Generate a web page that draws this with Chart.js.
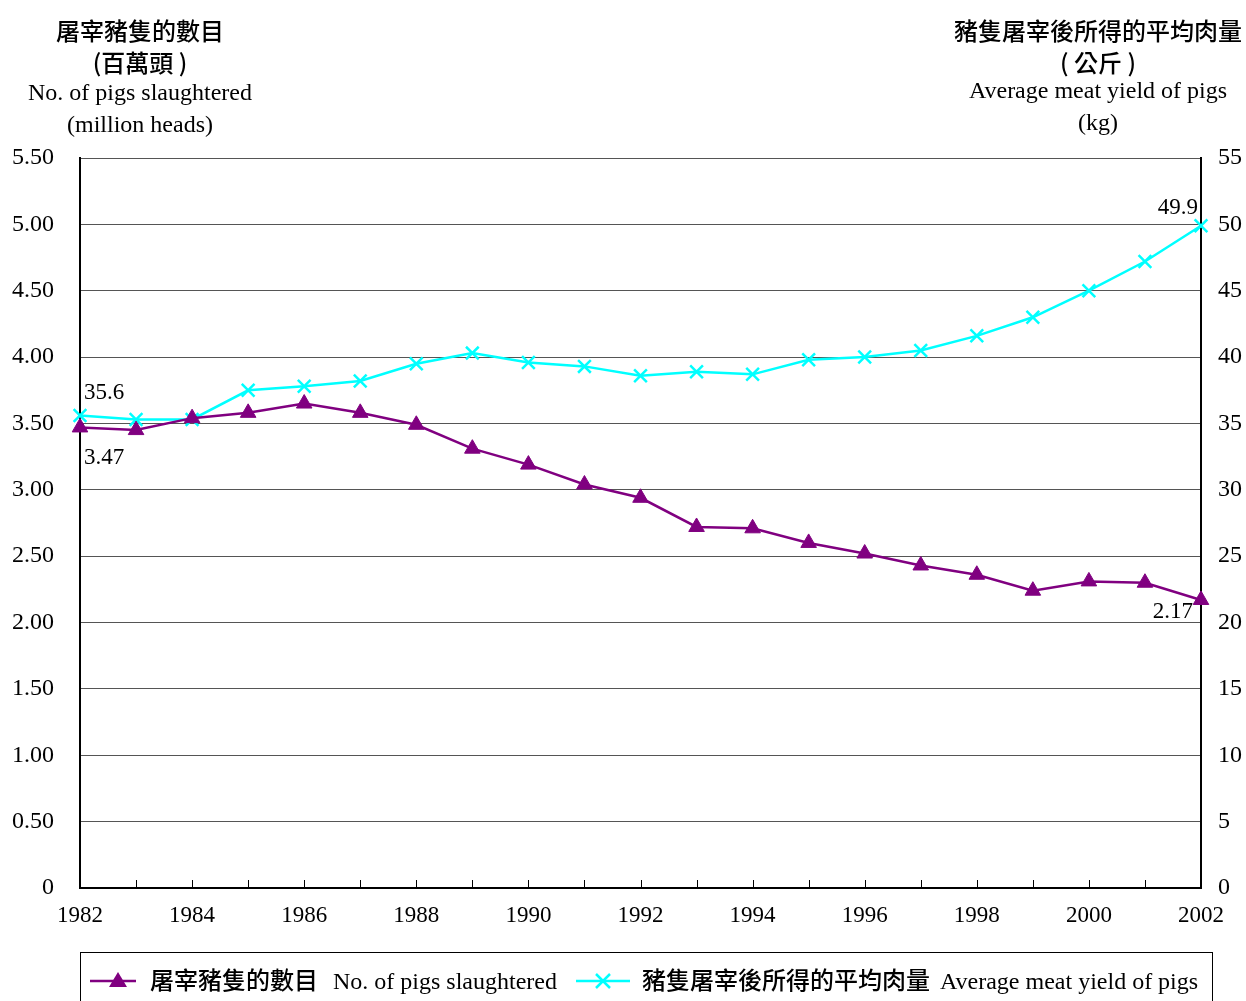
<!DOCTYPE html>
<html>
<head>
<meta charset="utf-8">
<script src="https://cdn.jsdelivr.net/npm/chart.js@4"></script>
<style>
  html, body { margin: 0; padding: 0; background: #fff; }
  #wrap { position: relative; width: 1246px; height: 1001px; overflow: hidden; }
  canvas { position: absolute; left: 0; top: 0; }
  .ttl { position: absolute; text-align: center; color: #000; font-size: 24px; line-height: 31.5px; }
  .zh { font-family: "Noto Sans CJK TC", "Noto Sans CJK SC", sans-serif; font-weight: 500; }
  .en { font-family: "Liberation Serif", "DejaVu Serif", serif; }
  #legend { position: absolute; left: 80px; top: 952px; width: 1133px; height: 60px; border: 1px solid #000; box-sizing: border-box;
            font-size: 24px; line-height: 30px; white-space: nowrap; }
  #legend span, #legend svg { position: absolute; top: 14px; }
</style>
</head>
<body>
<div id="wrap">
  <canvas id="c" width="1246" height="1001"></canvas>
  <div class="ttl" style="left:0; width:280px; top:14px;">
    <div class="zh">屠宰豬隻的數目</div>
    <div class="zh">(百萬頭 )</div>
    <div class="en">No. of pigs slaughtered</div>
    <div class="en">(million heads)</div>
  </div>
  <div class="ttl" style="left:950px; width:296px; top:14px;">
    <div class="zh">豬隻屠宰後所得的平均肉量</div>
    <div class="zh">( 公斤 )</div>
    <div class="en" style="margin-top:-2px">Average meat yield of pigs</div>
    <div class="en">(kg)</div>
  </div>
  <div id="legend">
    <svg style="left:9px; top:16px" width="48" height="24"><line x1="0" y1="12" x2="46" y2="12" stroke="#800080" stroke-width="2.5"/><polygon points="28,3 37,18 19,18" fill="#800080"/></svg>
    <span class="zh" style="left:69px; top:11px">屠宰豬隻的數目</span>
    <span class="en" style="left:252px; top:13px">No. of pigs slaughtered</span>
    <svg style="left:495px; top:16px" width="56" height="24"><line x1="0" y1="12" x2="54" y2="12" stroke="#00FFFF" stroke-width="2.5"/><line x1="20" y1="5" x2="34" y2="19" stroke="#00FFFF" stroke-width="2.5"/><line x1="34" y1="5" x2="20" y2="19" stroke="#00FFFF" stroke-width="2.5"/></svg>
    <span class="zh" style="left:561px; top:11px">豬隻屠宰後所得的平均肉量</span>
    <span class="en" style="left:859px; top:13px">Average meat yield of pigs</span>
  </div>
</div>
<script>
const years = ["1982","1983","1984","1985","1986","1987","1988","1989","1990","1991",
  "1992","1993","1994","1995","1996","1997","1998","1999","2000","2001","2002"];
// million heads
const pigsSlaughtered = [3.47,3.45,3.54,3.58,3.65,3.58,3.49,3.31,3.19,3.04,
  2.94,2.72,2.71,2.60,2.52,2.43,2.36,2.24,2.31,2.30,2.17];
// kg per pig
const meatYield = [35.6,35.3,35.3,37.5,37.8,38.2,39.5,40.3,39.6,39.3,
  38.6,38.9,38.7,39.8,40.0,40.5,41.6,43.0,45.0,47.2,49.9];
const leftTicks = ["0","0.50","1.00","1.50","2.00","2.50","3.00","3.50","4.00","4.50","5.00","5.50"];

const serif = '"Liberation Serif", "DejaVu Serif", serif';

// small year ticks inside the plot + end-point value labels
const extras = {
  id: "extras",
  afterDatasetsDraw(chart) {
    const { ctx, chartArea: a, scales: { x } } = chart;
    ctx.save();
    ctx.strokeStyle = "#000";
    ctx.lineWidth = 1;
    years.forEach((_, i) => {
      const px = Math.round(x.getPixelForValue(i)) + 0.5;
      ctx.beginPath();
      ctx.moveTo(px, a.bottom);
      ctx.lineTo(px, a.bottom - 8);
      ctx.stroke();
    });
    ctx.fillStyle = "#000";
    ctx.font = "23px " + serif;
    const m0 = chart.getDatasetMeta(0).data, m1 = chart.getDatasetMeta(1).data;
    const last = years.length - 1;
    ctx.textBaseline = "middle";
    ctx.textAlign = "left";
    ctx.fillText(meatYield[0].toFixed(1), m1[0].x + 4, m1[0].y - 23);
    ctx.fillText(pigsSlaughtered[0].toFixed(2), m0[0].x + 4, m0[0].y + 31);
    ctx.textAlign = "right";
    ctx.fillText(meatYield[last].toFixed(1), m1[last].x - 3, m1[last].y - 18);
    ctx.fillText(pigsSlaughtered[last].toFixed(2), m0[last].x - 8, m0[last].y + 12);
    ctx.restore();
  }
};

new Chart(document.getElementById("c"), {
  type: "line",
  data: {
    labels: years,
    datasets: [
      {
        label: "屠宰豬隻的數目 No. of pigs slaughtered",
        data: pigsSlaughtered,
        yAxisID: "y",
        borderColor: "#800080",
        backgroundColor: "#800080",
        borderWidth: 2.5,
        pointStyle: "triangle",
        pointRadius: 9,
        pointBorderWidth: 1,
        tension: 0
      },
      {
        label: "豬隻屠宰後所得的平均肉量 Average meat yield of pigs",
        data: meatYield,
        yAxisID: "y1",
        borderColor: "#00FFFF",
        backgroundColor: "#00FFFF",
        borderWidth: 2.5,
        pointStyle: "crossRot",
        pointRadius: 9,
        pointBorderWidth: 2.5,
        tension: 0
      }
    ]
  },
  plugins: [extras],
  options: {
    responsive: false,
    animation: false,
    layout: { padding: { top: 158, left: 0, right: 0, bottom: 0 } },
    plugins: { legend: { display: false }, tooltip: { enabled: false } },
    scales: {
      x: {
        offset: false,
        afterFit: (s) => { s.height = 113; },
        grid: { display: false, drawTicks: false },
        border: { color: "#000", width: 2 },
        ticks: {
          color: "#000", font: { family: serif, size: 23 }, padding: 14,
          autoSkip: false, maxRotation: 0,
          callback: (v, i) => (i % 2 === 0 ? years[i] : "")
        }
      },
      y: {
        position: "left",
        min: 0, max: 5.5,
        afterFit: (s) => { s.width = 80; },
        grid: { color: "#555", lineWidth: 1, drawTicks: false },
        border: { color: "#000", width: 2 },
        ticks: {
          stepSize: 0.5, color: "#000", font: { family: serif, size: 24 }, padding: 26,
          callback: (v, i) => leftTicks[i]
        }
      },
      y1: {
        position: "right",
        min: 0, max: 55,
        afterFit: (s) => { s.width = 45; },
        grid: { display: false, drawTicks: false },
        border: { color: "#000", width: 2 },
        ticks: { stepSize: 5, color: "#000", font: { family: serif, size: 24 }, padding: 17 }
      }
    }
  }
});
</script>
</body>
</html>
